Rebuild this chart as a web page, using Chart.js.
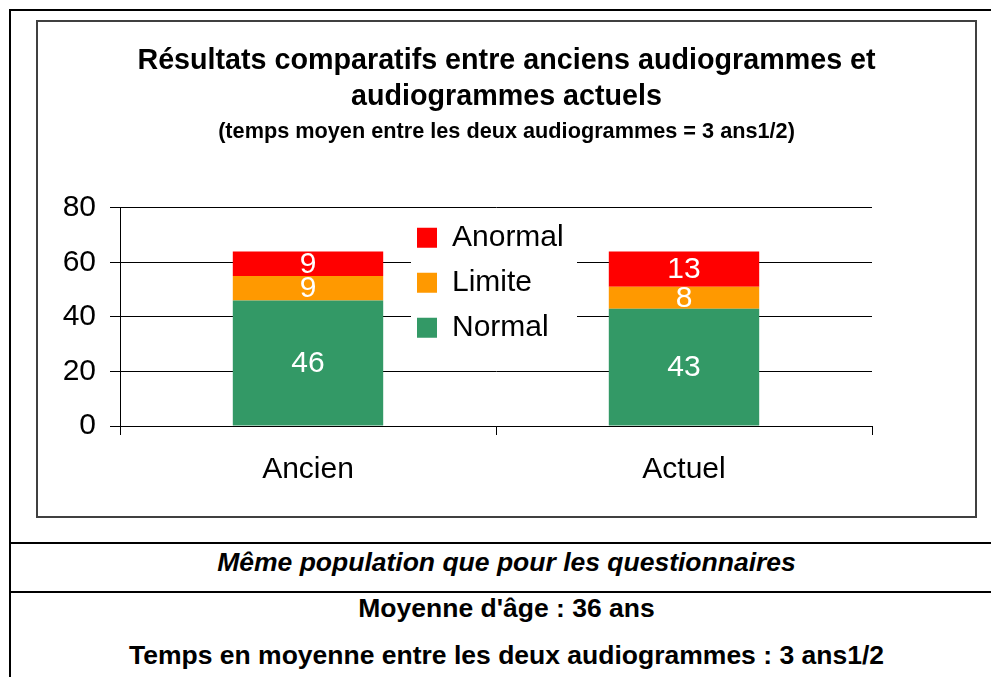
<!DOCTYPE html>
<html>
<head>
<meta charset="utf-8">
<script src="https://cdn.jsdelivr.net/npm/chart.js@4/dist/chart.umd.min.js"></script>
<style>
  html, body { margin: 0; padding: 0; background: #fff; }
  body { width: 991px; height: 677px; overflow: hidden; position: relative; font-family: "Liberation Sans", Arial, sans-serif; }
  #outer { position: absolute; left: 9px; top: 9px; width: 1010px; height: 700px; border-left: 2px solid #000; border-top: 2px solid #000; box-sizing: border-box; }
  .hline { position: absolute; left: 9px; width: 1000px; height: 0; border-top: 2px solid #000; }
  #box { position: absolute; left: 36px; top: 20px; width: 941px; height: 498px; border: 2px solid #404040; box-sizing: border-box; }
  #box canvas { position: absolute; left: 0; top: 0; }
  .row { position: absolute; left: 9px; width: 995px; text-align: center; font-weight: bold; color: #000; font-size: 26.5px; line-height: 30px; }
</style>
</head>
<body>
<div id="outer"></div>
<div class="hline" style="top:542px"></div>
<div class="hline" style="top:591px"></div>
<div id="box"><canvas id="c" width="937" height="494"></canvas></div>
<div class="row" style="top:547px; font-style: italic;">Même population que pour les questionnaires</div>
<div class="row" style="top:593px;">Moyenne d'âge : 36 ans</div>
<div class="row" style="top:640px;">Temps en moyenne entre les deux audiogrammes : 3 ans1/2</div>
<script>
const categories = ["Ancien", "Actuel"];
const seriesNames = ["Normal", "Limite", "Anormal"];
const normalValues = [46, 43];
const limiteValues = [9, 8];
const anormalValues = [9, 13];
const seriesColors = ["#339966", "#FF9900", "#FF0000"];
const yTicks = [0, 20, 40, 60, 80];
const titleLines = ["Résultats comparatifs entre anciens audiogrammes et", "audiogrammes actuels"];
const subtitleText = "(temps moyen entre les deux audiogrammes = 3 ans1/2)";

const FONT = "'Liberation Sans', Arial, sans-serif";

const legendPlacer = {
  id: 'legendPlacer',
  afterLayout(chart) {
    const ca = chart.chartArea, lg = chart.legend;
    const cx = (ca.left + ca.right) / 2;
    lg.left = cx - 94; lg.right = lg.left + 200;
    lg.top = ca.top; lg.bottom = lg.top + 220;
  },
  afterDraw(chart) {
    const lg = chart.legend, ctx = chart.ctx;
    const pad = 15;
    ctx.save();
    ctx.fillStyle = '#fff';
    ctx.fillRect(lg.left + pad - 6, lg.top + pad - 8, 166, 136);
    ctx.restore();
    lg.draw();
  }
};

const valueLabels = {
  id: 'valueLabels',
  afterDatasetsDraw(chart) {
    const ctx = chart.ctx;
    ctx.save();
    ctx.fillStyle = '#fff';
    ctx.font = "30px " + FONT;
    ctx.textAlign = 'center';
    ctx.textBaseline = 'middle';
    chart.data.datasets.forEach((ds, di) => {
      const meta = chart.getDatasetMeta(di);
      meta.data.forEach((el, i) => {
        const y = (el.y + el.base) / 2;
        ctx.fillText(String(ds.data[i]), el.x, y + 1);
      });
    });
    ctx.restore();
  }
};

const seriesData = [normalValues, limiteValues, anormalValues];
new Chart(document.getElementById('c'), {
  type: 'bar',
  data: {
    labels: categories,
    datasets: seriesNames.map((n, i) => ({
      label: n,
      data: seriesData[i],
      backgroundColor: seriesColors[i],
      borderWidth: 0,
      barPercentage: 0.4,
      categoryPercentage: 1.0,
      yAxisID: 'y'
    }))
  },
  options: {
    responsive: false,
    animation: false,
    devicePixelRatio: 1,
    layout: { padding: { left: 0, right: 0, top: 0, bottom: 11 } },
    plugins: {
      title: {
        display: true, text: titleLines, color: '#000',
        font: { family: FONT, size: 28.7, weight: 'bold', lineHeight: 1.254 },
        padding: { top: 20.7, bottom: 0 }
      },
      subtitle: {
        display: true, text: subtitleText, color: '#000',
        font: { family: FONT, size: 21.7, weight: 'bold', lineHeight: 1.2 },
        padding: { top: 4, bottom: 63 }
      },
      legend: {
        display: true, position: 'chartArea', align: 'start', reverse: true,
        labels: {
          boxWidth: 20, boxHeight: 20, padding: 15, color: '#000',
          font: { family: FONT, size: 30 }
        }
      },
      tooltip: { enabled: false }
    },
    scales: {
      x: {
        stacked: true,
        grid: { display: true, drawOnChartArea: false, drawTicks: true, tickLength: 9, color: '#000', offset: true },
        border: { display: true, color: '#000', width: 1 },
        ticks: { color: '#000', font: { family: FONT, size: 30 }, padding: 17 }
      },
      y: {
        stacked: true, min: 0, max: 80,
        afterFit(scale) { scale.width = 82; },
        afterBuildTicks(scale) { scale.ticks = yTicks.map(v => ({ value: v })); },
        grid: { color: '#000', tickLength: 10, drawTicks: true },
        border: { display: true, color: '#000', width: 1 },
        ticks: { color: '#000', font: { family: FONT, size: 30 }, padding: 14, stepSize: 20 }
      },
      spacer: {
        type: 'linear', position: 'right', display: true,
        afterFit(scale) { scale.width = 103; },
        grid: { display: false, drawTicks: false },
        border: { display: false },
        ticks: { display: false }
      }
    }
  },
  plugins: [legendPlacer, valueLabels]
});
</script>
</body>
</html>
